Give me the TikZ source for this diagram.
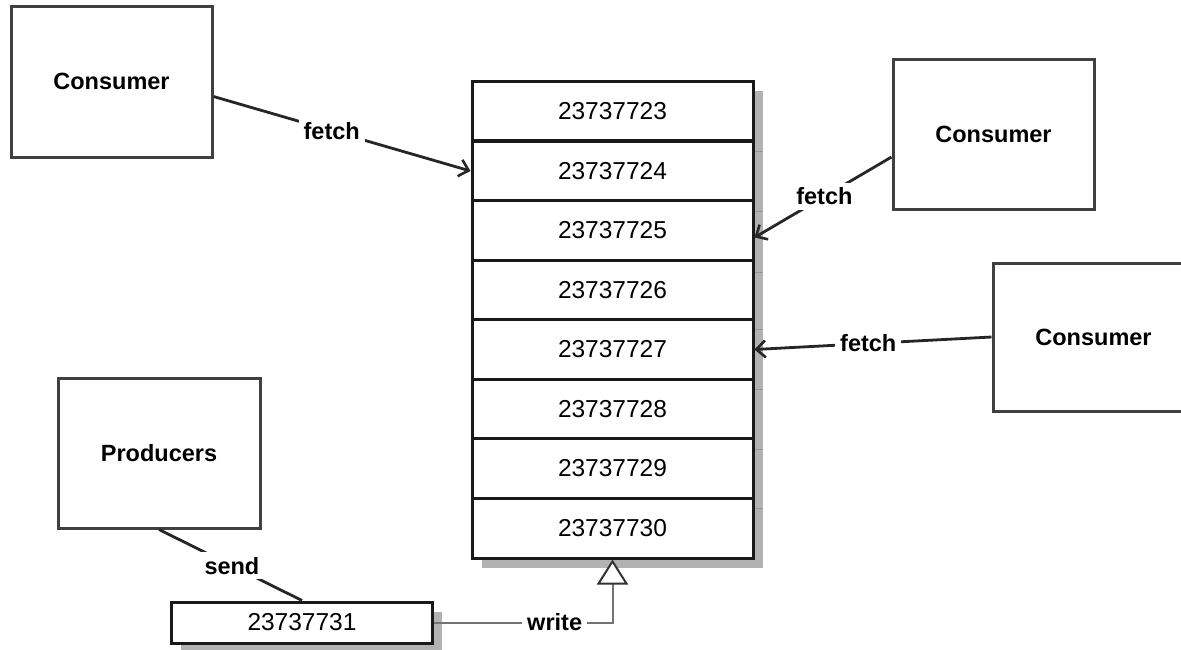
\documentclass[tikz,border=0pt]{standalone}
\usepackage{fontspec}
\setmainfont{Liberation Sans}
\usetikzlibrary{arrows.meta,calc}
\begin{document}
\begin{tikzpicture}[x=1pt,y=-1pt,
  actor/.style={draw=black!75, line width=3pt, inner sep=0pt, font=\fontsize{23.5}{28}\selectfont\bfseries},
  cell/.style={draw=black!90, line width=3pt, fill=white, inner sep=0pt, minimum width=281pt, minimum height=59.6pt, font=\fontsize{24.5}{28}\selectfont},
  lbl/.style={fill=white, inner xsep=5pt, inner ysep=5pt, font=\fontsize{23.5}{28}\selectfont\bfseries},
  fetchline/.style={draw=black!85, line width=2.8pt, -{Straight Barb[length=9pt,width=17pt,line width=2.6pt]}},
  sendline/.style={draw=black!85, line width=2.8pt},
  writeline/.style={draw=black!55, line width=2pt, -{Triangle[open,length=25pt,width=31pt,fill=white,line width=2pt,color=black!80]}},
  shadowfill/.style={fill=black!30}]
\clip (0,0) rectangle (1181,649);
\fill[white] (0,0) rectangle (1181,649);

% actors
\node[actor, minimum width=201pt, minimum height=151pt] (c1) at (111.5,81.5) {Consumer};
\node[actor, minimum width=201pt, minimum height=150pt] (c2) at (993.5,134) {Consumer};
\node[actor, minimum width=201pt, minimum height=148pt] (c3) at (1093.5,337) {Consumer};
\node[actor, minimum width=202pt, minimum height=150pt] (p) at (159,453) {Producers};

% stack shadow
\fill[shadowfill] (482,91) rectangle (763,568);
\foreach \yy in {151,211,272,329,389,449,508} \draw[black!42, line width=1pt] (754,\yy) -- (763,\yy);

% stack cells
\node[cell] (r1) at (612.5,111) {23737723};
\node[cell] (r2) at (612.5,171) {23737724};
\node[cell] (r3) at (612.5,230.5) {23737725};
\node[cell] (r4) at (612.5,290) {23737726};
\node[cell] (r5) at (612.5,349.5) {23737727};
\node[cell] (r6) at (612.5,409) {23737728};
\node[cell] (r7) at (612.5,468.5) {23737729};
\node[cell] (r8) at (612.5,528.2) {23737730};

% new message box
\fill[shadowfill] (181,612) rectangle (442,652);
\node[cell, minimum width=261pt, minimum height=41pt] (w) at (302,622.5) {23737731};

% connectors
\draw[fetchline] ([yshift=-15pt]c1.east) -- node[lbl, pos=0.46] {fetch} (r2.west);
\draw[fetchline] ([yshift=-23pt]c2.west) -- node[lbl, pos=0.49] {fetch} ([yshift=-7pt]r3.east);
\draw[fetchline] (c3.west) -- node[lbl, pos=0.52] {fetch} (r5.east);
\draw[sendline] (p.south) -- node[lbl, pos=0.51] {send} (w.north);
\draw[writeline] (w.east) -| node[lbl, inner ysep=2pt, pos=0.338] {write} (r8.south);
\end{tikzpicture}
\end{document}
